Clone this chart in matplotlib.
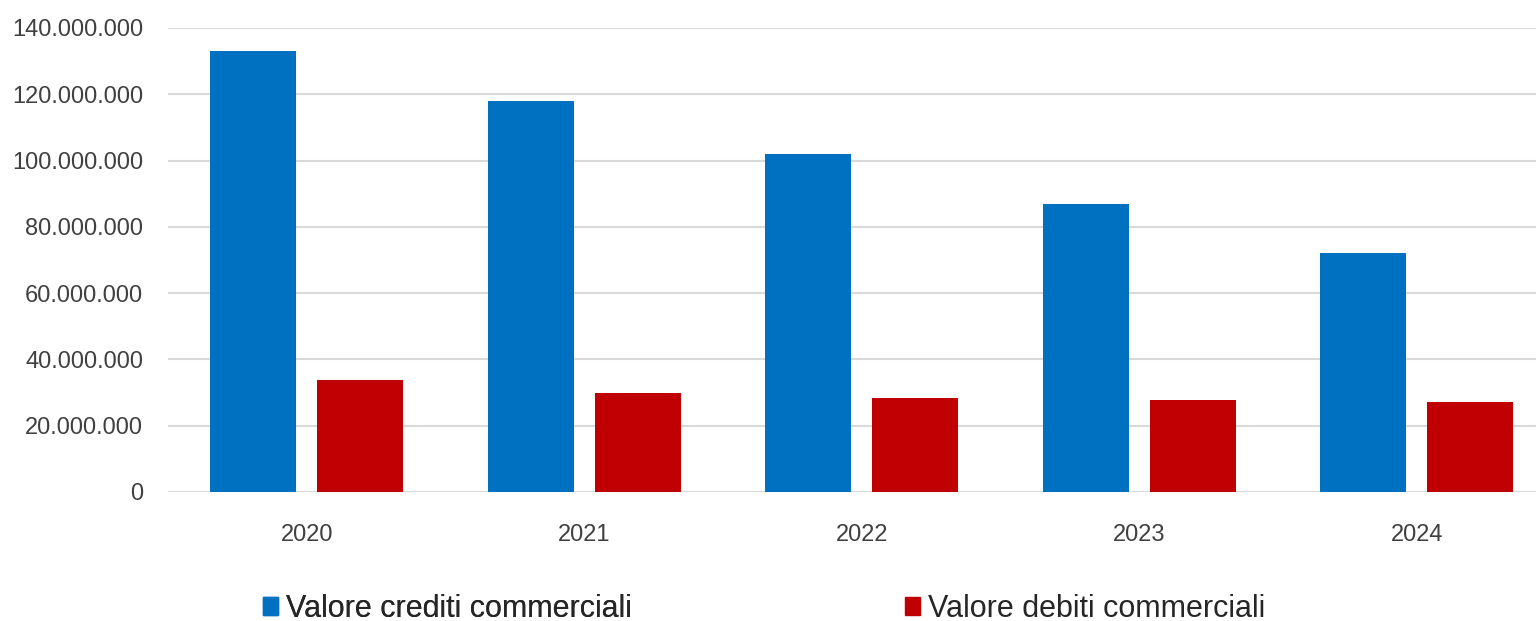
import matplotlib
matplotlib.use("Agg")
import matplotlib.pyplot as plt
import numpy as np
from matplotlib.ticker import FuncFormatter, MultipleLocator
from matplotlib.patches import Patch

years = ["2020", "2021", "2022", "2023", "2024"]
crediti = [133_000_000, 118_000_000, 102_000_000, 87_000_000, 72_000_000]
debiti = [33_800_000, 29_900_000, 28_500_000, 27_800_000, 27_100_000]
label_crediti = "Valore crediti commerciali"
label_debiti = "Valore debiti commerciali"

plt.rcParams['font.family'] = ['Liberation Sans', 'DejaVu Sans']

W, H = 1536, 621
fig = plt.figure(figsize=(W / 100, H / 100), dpi=100)
ax = fig.add_axes([168 / W, 1 - 492 / H, (W - 168) / W, (492 - 28) / H])

x = np.arange(len(years))
bw = 0.31
off = 0.193
ax.bar(x - off, crediti, width=bw, color="#0070C0", zorder=3)
ax.bar(x + off, debiti, width=bw, color="#C00000", zorder=3)

ax.set_xlim(-0.5, 4.43)
ax.set_ylim(0, 140_000_000)
ax.yaxis.set_major_locator(MultipleLocator(20_000_000))
ax.yaxis.set_major_formatter(FuncFormatter(lambda v, p: f"{v:,.0f}".replace(",", ".")))
ax.set_xticks(x)
ax.set_xticklabels(years)
ax.grid(axis="y", color="#d9d9d9", linewidth=1.5, zorder=0)
ax.set_axisbelow(True)
for s in ax.spines.values():
    s.set_visible(False)
ax.tick_params(axis="y", length=0, pad=18, labelsize=17, labelcolor="#404040")
ax.tick_params(axis="x", length=0, pad=23, labelsize=17, labelcolor="#404040")

common = dict(loc="lower left", frameon=False, fontsize=22, handlelength=0.5,
              handleheight=0.5, handletextpad=0.25, borderpad=0.0,
              borderaxespad=0.0, labelcolor="#262626")
leg1 = fig.legend(handles=[Patch(color="#0070C0", label=label_crediti)],
                  bbox_to_anchor=(263 / W, -3 / H), **common)
fig.add_artist(leg1)
leg2 = fig.legend(handles=[Patch(color="#C00000", label=label_debiti)],
                  bbox_to_anchor=(905 / W, -3 / H), **common)

fig.savefig("out.png", dpi=100)
